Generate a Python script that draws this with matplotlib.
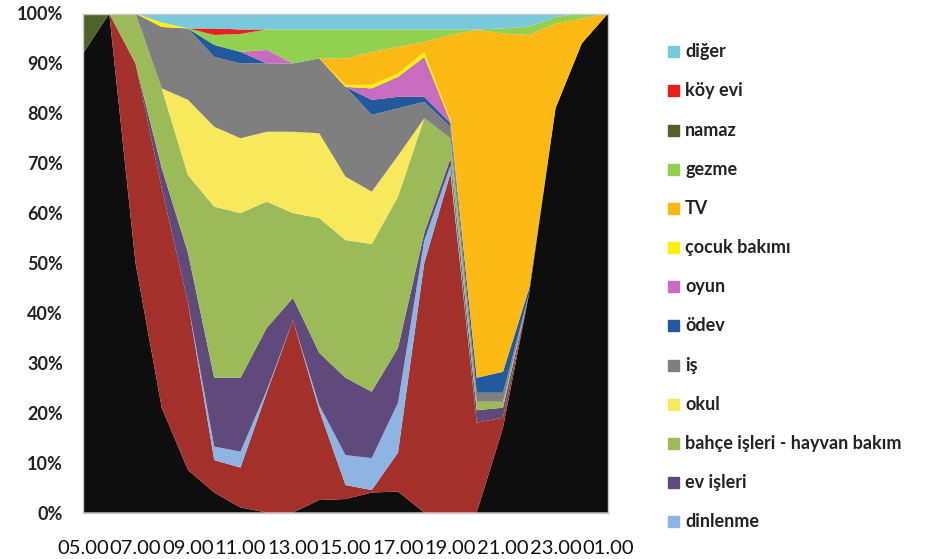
import numpy as np
import matplotlib
matplotlib.use("Agg")
import matplotlib.pyplot as plt
from matplotlib.patches import Rectangle

# saatler (her saat bir nokta, eksende iki saatte bir etiket)
hours = ["05.00", "06.00", "07.00", "08.00", "09.00", "10.00", "11.00",
         "12.00", "13.00", "14.00", "15.00", "16.00", "17.00", "18.00",
         "19.00", "20.00", "21.00", "22.00", "23.00", "00.00", "01.00"]

# etkinlik payları (%), alttan üste
uyku      = [92, 100, 50, 21, 8.5, 4, 1, 0, 0, 2.5, 2.7, 4, 4.2, 0, 0, 0, 17, 44, 81, 94, 100]
yemek     = [0, 0, 40, 44, 33.5, 6.5, 8, 24, 38.5, 18, 2.8, 0.5, 7.8, 50, 68, 18, 2, 0, 0, 0, 0]
dinlenme  = [0, 0, 0, 0, 0, 2.7, 3.2, 0.5, 0, 1, 6, 6.4, 10, 4.5, 1.5, 0, 0, 0, 0, 0, 0]
ev_isleri = [0, 0, 0, 4, 10, 13.8, 14.8, 12.5, 4.5, 10.5, 15.5, 13.3, 11, 1.5, 1.5, 2.5, 2, 0, 0, 0, 0]
bahce     = [0, 0, 10, 16, 15.6, 34.3, 33, 25.3, 17, 27, 27.6, 29.6, 30.3, 23, 4, 1.7, 1.2, 0, 0, 0, 0]
okul      = [0, 0, 0, 0, 15.1, 16, 15, 14, 16.3, 17, 12.7, 10.5, 8.2, 0, 0, 0, 0, 0, 0, 0, 0]
is_       = [0, 0, 0, 12.3, 14.3, 14, 15, 13.7, 13.7, 15, 18, 15.4, 9.5, 3.3, 2.3, 1.8, 1.8, 0, 0, 0, 0]
odev      = [0, 0, 0, 0, 0, 2.4, 2.3, 0, 0, 0, 0, 3, 2.3, 1, 0.7, 3, 4.2, 1, 0, 0, 0]
oyun      = [0, 0, 0, 0, 0, 0, 0, 2.7, 0, 0, 0, 2.3, 4, 8, 0.3, 0, 0, 0, 0, 0, 0]
cocuk     = [0, 0, 0, 0.9, 0, 0, 0, 0, 0, 0, 0.4, 0.7, 0.7, 1, 0.4, 0, 0, 0, 0, 0, 0]
tv        = [0, 0, 0, 0, 0, 0, 0, 0, 0, 0, 5.3, 6.6, 5.3, 2, 17, 69.7, 67.8, 50.7, 17, 5, 0]
gezme     = [0, 0, 0, 0, 0, 2, 3.6, 4.1, 6.8, 5.8, 5.8, 4.5, 3.5, 2.5, 1.1, 0.1, 1, 1.7, 1.3, 1, 0]
namaz     = [8, 0, 0, 0, 0, 0, 0, 0, 0, 0, 0, 0, 0, 0, 0, 0, 0, 0, 0, 0, 0]
koy_evi   = [0, 0, 0, 0, 0, 1.3, 0.9, 0, 0, 0, 0, 0, 0, 0, 0, 0, 0, 0, 0, 0, 0]
diger     = [0, 0, 0, 1.8, 3, 3, 3.2, 3.2, 3.2, 3.2, 3.2, 3.2, 3.2, 3.2, 3.2, 3.2, 3, 2.6, 0.7, 0, 0]

series = [uyku, yemek, dinlenme, ev_isleri, bahce, okul, is_, odev, oyun,
          cocuk, tv, gezme, namaz, koy_evi, diger]
names = ["uyku", "yemek", "dinlenme", "ev işleri", "bahçe işleri - hayvan bakım",
         "okul", "iş", "ödev", "oyun", "çocuk bakımı", "TV", "gezme", "namaz",
         "köy evi", "diğer"]
colors = ["#0e0e0e", "#a3302b", "#8db4e2", "#60497b", "#9bbb59", "#f8e85c",
          "#7f7f7f", "#22599d", "#c96bbe", "#fff200", "#fdb913", "#92d050",
          "#4f6228", "#e8201e", "#79c9dd"]

data = np.array(series, dtype=float)
data = data / data.sum(axis=0) * 100  # %100 yığılmış alan
x = np.arange(len(hours))

fig = plt.figure(figsize=(9.4, 5.59), dpi=100)
ax = fig.add_axes([83 / 940, 1 - 512.5 / 559, 525 / 940, 499 / 559])
ax.stackplot(x, data, colors=colors, linewidth=0)

ax.set_xlim(0, len(hours) - 1)
ax.set_ylim(0, 100)
ax.set_yticks(np.arange(0, 101, 10))
ax.set_yticklabels([f"{v}%" for v in range(0, 101, 10)],
                   fontfamily="Lato", fontweight="bold", fontsize=13, color="#222222")
ax.set_xticks(x[::2])
ax.set_xticklabels(hours[::2], fontfamily="Lato", fontsize=14.5, color="#111111")
ax.tick_params(axis="y", length=0, pad=14.5)
ax.tick_params(axis="x", length=0, pad=20)
for s in ax.spines.values():
    s.set_color("#c8c8c8")
    s.set_linewidth(1)

# lejant (sağda, üstten alta)
legend_items = list(zip(names, colors))[2:][::-1]
for k, (name, col) in enumerate(legend_items):
    yc = 51.7 + k * 39.17
    fig.patches.append(Rectangle((668 / 940, 1 - (yc + 5.5) / 559), 11 / 940, 11 / 559,
                                 transform=fig.transFigure, color=col))
    fig.text(685 / 940, 1 - yc / 559, name, va="center", ha="left",
             fontfamily="Lato", fontweight="bold", fontsize=13, color="#222222")

fig.savefig("out.png", dpi=100)
